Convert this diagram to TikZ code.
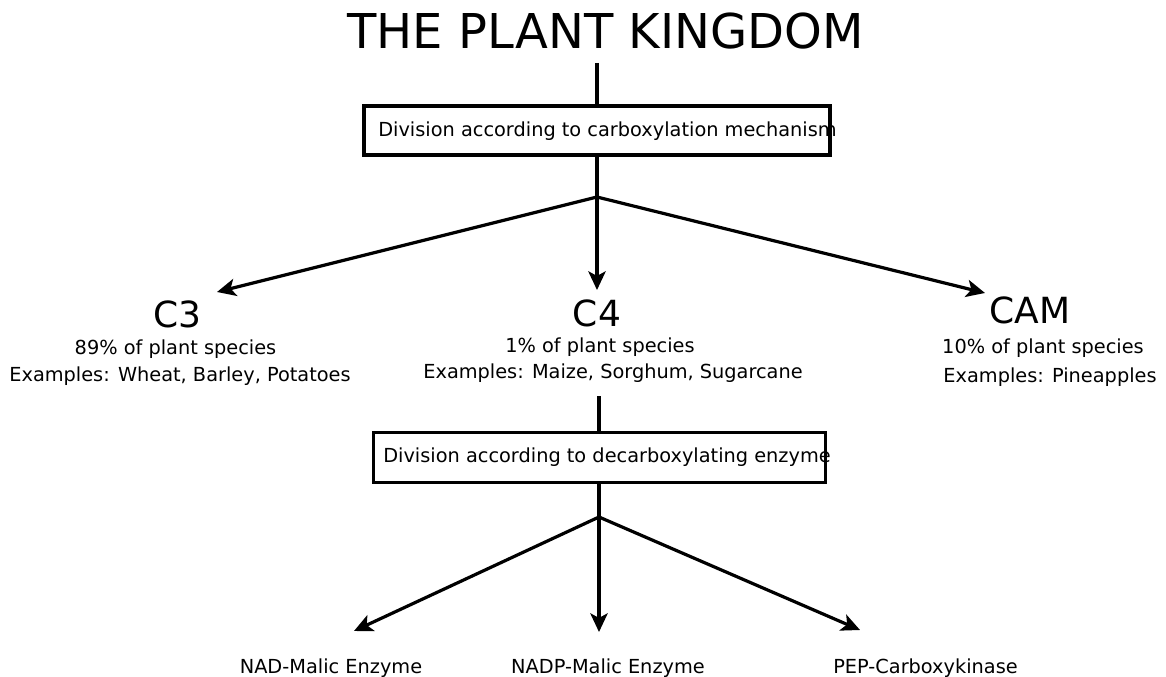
\documentclass[tikz,border=0pt]{standalone}
\usepackage{fontspec}
\setmainfont{DejaVu Sans}
\usetikzlibrary{arrows.meta}
\begin{document}
\begin{tikzpicture}[x=0.75pt,y=-0.75pt,
  conn/.style={line width=2.4pt},
  arr/.style={conn,-{Stealth[length=14pt,width=13pt,inset=3.5pt]}},
  txt/.style={inner sep=0pt,anchor=base,font=\fontsize{14.5}{17}\selectfont},
  boxtxt/.style={inner sep=0pt,anchor=base west,font=\fontsize{14.5}{17}\selectfont},
  bigtxt/.style={inner sep=0pt,anchor=base,font=\fontsize{27}{32}\selectfont},
  divbox/.style={draw,line width=2.4pt,inner sep=0pt}]
\useasboundingbox (0,0) rectangle (1166,677);

% title
\node[inner sep=0pt,anchor=base,font=\fontsize{36}{43}\selectfont] (title) at (605.5,49) {THE PLANT KINGDOM};
\coordinate (titlefoot) at (597,63);

% first division
\node[divbox,minimum width=466*0.75pt,minimum height=49*0.75pt] (div1) at (597,130.5) {};
\node[boxtxt] (div1txt) at (378,137) {Division according to carboxylation mechanism};
\coordinate (fork1) at (597,197);
\coordinate (toC3) at (217,292);
\coordinate (toC4) at (597,290);
\coordinate (toCAM) at (985,293);

\draw[conn] (titlefoot) -- (div1.north);
\draw[conn] (div1.south) -- (fork1);
\draw[arr] (fork1) -- (toC3);
\draw[arr] (fork1) -- (toC4);
\draw[arr] (fork1) -- (toCAM);

% the three groups
\node[bigtxt] (c3) at (177.5,327) {C3};
\node[txt] (c3a) at (175.5,354) {89\% of plant species};
\node[txt] (c3b) at (180,381) {Examples: Wheat, Barley, Potatoes};

\node[bigtxt] (c4) at (597,326) {C4};
\node[txt] (c4a) at (600,352) {1\% of plant species};
\node[txt] (c4b) at (613,378) {Examples: Maize, Sorghum, Sugarcane};

\node[bigtxt] (cam) at (1030,323) {CAM};
\node[txt] (cama) at (1043,353) {10\% of plant species};
\node[txt] (camb) at (1050,382) {Examples: Pineapples};

% second division
\coordinate (c4foot) at (599,396);
\node[divbox,minimum width=452*0.75pt,minimum height=50*0.75pt] (div2) at (599.5,457.5) {};
\node[boxtxt] (div2txt) at (383,462) {Division according to decarboxylating enzyme};
\coordinate (fork2) at (599,517);
\coordinate (toNAD) at (354,631);
\coordinate (toNADP) at (599,632);
\coordinate (toPEP) at (860,630);

\draw[conn] (c4foot) -- (div2.north -| c4foot);
\draw[conn] (div2.south -| fork2) -- (fork2);
\draw[arr] (fork2) -- (toNAD);
\draw[arr] (fork2) -- (toNADP);
\draw[arr] (fork2) -- (toPEP);

% enzymes
\node[txt] (nad) at (331,673) {NAD-Malic Enzyme};
\node[txt] (nadp) at (608,673) {NADP-Malic Enzyme};
\node[txt] (pep) at (925.5,673) {PEP-Carboxykinase};
\end{tikzpicture}
\end{document}
